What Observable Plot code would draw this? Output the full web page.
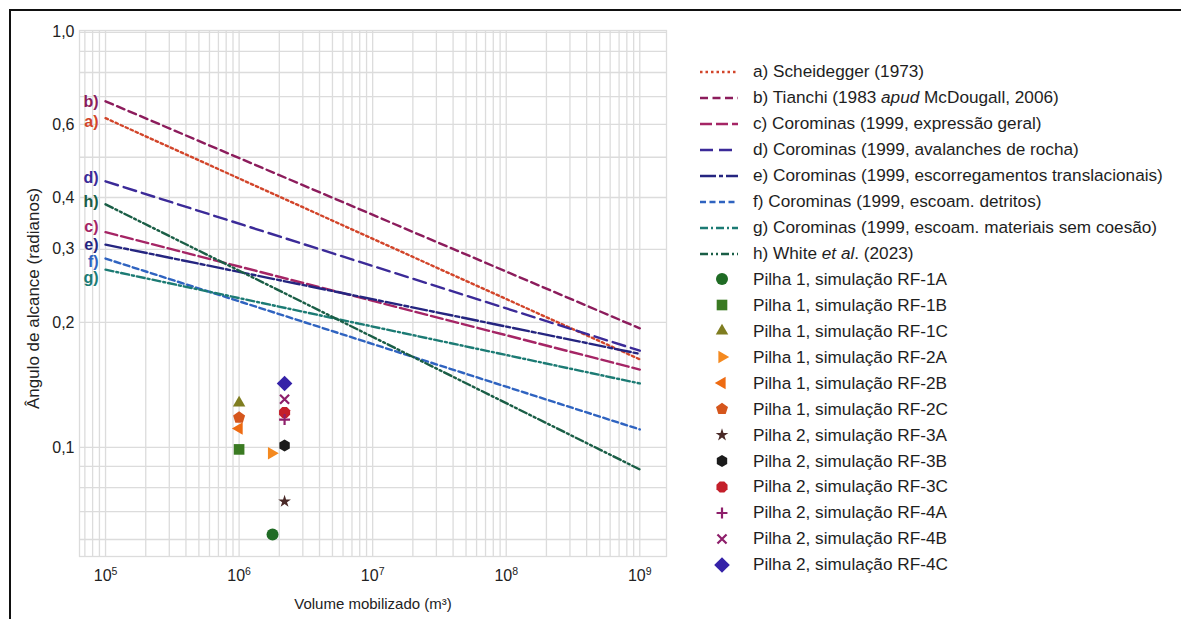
<!DOCTYPE html>
<html><head><meta charset="utf-8">
<script src="https://cdn.jsdelivr.net/npm/d3@7"></script>
<script src="https://cdn.jsdelivr.net/npm/@observablehq/plot@0.6"></script>
<style>
body{margin:0;background:#fff;font-family:"Liberation Sans",Arial,sans-serif;}
#wrap{position:relative;width:1181px;height:619px;overflow:hidden;background:#fff;}
#border{position:absolute;left:9px;top:9px;right:-5px;bottom:-5px;border-left:2px solid #111;border-top:2px solid #111;}
#chart{position:absolute;left:0;top:0;}
#legend{position:absolute;left:697px;top:59px;}
.row{height:25.95px;display:flex;align-items:center;font-size:17.2px;color:#1e1e1e;white-space:nowrap}
.row svg{width:56px;height:20px;flex:none}
</style></head><body>
<div id="wrap"><div id="border"></div><div id="chart"></div><div id="legend"></div></div>
<script>
// ---- data ----
const lineIds = ["a", "b", "c", "d", "e", "f", "g", "h"];
const lineNames = [
  "a) Scheidegger (1973)",
  "b) Tianchi (1983 <i>apud</i> McDougall, 2006)",
  "c) Corominas (1999, expressão geral)",
  "d) Corominas (1999, avalanches de rocha)",
  "e) Corominas (1999, escorregamentos translacionais)",
  "f) Corominas (1999, escoam. detritos)",
  "g) Corominas (1999, escoam. materiais sem coesão)",
  "h) White <i>et al</i>. (2023)"
];
const lineVolumes = [1e5, 1e9];
const lineAngleStart = [0.621, 0.682, 0.330, 0.4375, 0.308, 0.285, 0.268, 0.385];
const lineAngleEnd   = [0.163, 0.1936, 0.154, 0.171, 0.168, 0.1105, 0.1426, 0.0885];

const simNames = ["Pilha 1, simulação RF-1A","Pilha 1, simulação RF-1B","Pilha 1, simulação RF-1C",
  "Pilha 1, simulação RF-2A","Pilha 1, simulação RF-2B","Pilha 1, simulação RF-2C",
  "Pilha 2, simulação RF-3A","Pilha 2, simulação RF-3B","Pilha 2, simulação RF-3C",
  "Pilha 2, simulação RF-4A","Pilha 2, simulação RF-4B","Pilha 2, simulação RF-4C"];
const simVolume = [1.78e6, 1.0e6, 1.0e6, 1.75e6, 1.0e6, 1.0e6, 2.19e6, 2.19e6, 2.19e6, 2.19e6, 2.19e6, 2.19e6];
const simAngle  = [0.0617, 0.0989, 0.128, 0.0968, 0.111, 0.118, 0.0741, 0.101, 0.1214, 0.1167, 0.1306, 0.1426];

const yTicks = [0.1, 0.2, 0.3, 0.4, 0.6, 1.0];
const xTicks = [1e5, 1e6, 1e7, 1e8, 1e9];

// ---- styles ----
const lineColors = ["#d2452a", "#8c1c5c", "#a52565", "#3b2a98", "#252580", "#2f63c0", "#1c7b74", "#1a5e46"];
const lineDash = ["2.5,3", "8,4.5", "12,4", "13,6", "16,3,4,3", "6,3.5", "8,3,2,3", "8,3,2,3,2,3"];
const labelDy = [4, 1, -5, -3, 0, 3, 8, -2];
const simColors = ["#1f6b24", "#3a7a22", "#7f7d20", "#f4891f", "#ee6b12", "#d5561c",
  "#4a2a28", "#1b1b1b", "#c41f2a", "#8e1f6b", "#8e1f6b", "#3522a8"];
function poly(n, rot, k) {
  return {draw(ctx, size) {
    const r = Math.sqrt(size / Math.PI) * k;
    for (let j = 0; j < n; j++) {
      const a = rot + j * 2 * Math.PI / n;
      const x = r * Math.cos(a), y = r * Math.sin(a);
      if (j) ctx.lineTo(x, y); else ctx.moveTo(x, y);
    }
    ctx.closePath();
  }};
}
const D = Math.PI / 180;
const simSymbols = [d3.symbolCircle, d3.symbolSquare, poly(3, -90 * D, 1.2), poly(3, 0, 1.2), poly(3, 180 * D, 1.2),
  poly(5, -90 * D, 1.05), d3.symbolStar, poly(6, -90 * D, 1.0), poly(8, 22.5 * D, 1.0),
  d3.symbolPlus, d3.symbolTimes, poly(4, -90 * D, 1.3)];
const simR = [6, 6, 6, 6, 6, 6, 4, 6, 6, 3.6, 4.2, 6];
const simStroked = [false, false, false, false, false, false, false, false, false, true, true, false];

// ---- chart ----
const xDomain = [10 ** 4.805, 10 ** 9.2];
const yDomain = [0.0546, 1.01];
const xGrid = d3.scaleLog().domain(xDomain).ticks();
const yGrid = d3.scaleLog().domain(yDomain).ticks();

const lineRows = lineIds.flatMap((id, i) => [
  {id, v: lineVolumes[0], a: lineAngleStart[i]},
  {id, v: lineVolumes[1], a: lineAngleEnd[i]}
]);

const marks = [
  Plot.ruleX(xGrid, {stroke: "#dcdcdc", strokeWidth: 1.3}),
  Plot.ruleY(yGrid, {stroke: "#dcdcdc", strokeWidth: 1.3}),
  Plot.frame({stroke: "#dcdcdc", strokeWidth: 1.3})
];
lineIds.forEach((id, i) => {
  marks.push(Plot.line(lineRows.filter(d => d.id === id), {
    x: "v", y: "a", stroke: lineColors[i], strokeWidth: 2.4, strokeDasharray: lineDash[i]
  }));
  marks.push(Plot.text([i], {
    x: () => lineVolumes[0], y: j => lineAngleStart[j], text: j => lineIds[j] + ")",
    fill: lineColors[i], textAnchor: "end", dx: -7, dy: labelDy[i], fontSize: 16, fontWeight: "bold"
  }));
});
simNames.forEach((n, i) => {
  const o = {x: j => simVolume[j], y: j => simAngle[j], r: simR[i], symbol: simSymbols[i]};
  if (simStroked[i]) { o.stroke = simColors[i]; o.strokeWidth = 2.2; o.fill = "none"; }
  else { o.fill = simColors[i]; o.stroke = "none"; }
  marks.push(Plot.dot([i], o));
});
marks.push(Plot.text(["Volume mobilizado (m³)"], {frameAnchor: "bottom", lineAnchor: "middle", textAnchor: "middle", dy: 48, fontSize: 15, fill: "#222"}));
marks.push(Plot.text(["Ângulo de alcance (radianos)"], {frameAnchor: "left", textAnchor: "middle", lineAnchor: "middle", rotate: -90, dx: -46, dy: 5, fontSize: 17, fill: "#222"}));

const chart = Plot.plot({
  width: 680, height: 619,
  marginLeft: 79, marginRight: 14, marginTop: 30, marginBottom: 63,
  style: {fontFamily: "Liberation Sans, Arial, sans-serif", fontSize: "16px", color: "#222", background: "transparent", overflow: "visible"},
  x: {type: "log", domain: xDomain, ticks: xTicks, tickFormat: d => "10^" + Math.round(Math.log10(d)), tickSize: 0, tickPadding: 13, label: null},
  y: {type: "log", domain: yDomain, ticks: yTicks, tickFormat: d => d.toFixed(1).replace(".", ","), tickSize: 0, tickPadding: 5, label: null},
  marks
});
document.getElementById("chart").appendChild(chart);
const NS = "http://www.w3.org/2000/svg";
chart.querySelectorAll('g[aria-label="x-axis tick label"] text').forEach(t => {
  const [b, e] = t.textContent.split("^");
  if (e === undefined) return;
  t.textContent = b;
  t.setAttribute("font-size", "16");
  const ts = document.createElementNS(NS, "tspan");
  ts.setAttribute("dy", "-0.6em");
  ts.setAttribute("font-size", "10.5");
  ts.textContent = e;
  t.appendChild(ts);
});

// ---- legend ----
const leg = document.getElementById("legend");
lineNames.forEach((n, i) => {
  const row = document.createElement("div");
  row.className = "row";
  row.innerHTML = `<svg viewBox="0 0 56 20"><line x1="3" x2="41" y1="10" y2="10" stroke="${lineColors[i]}" stroke-width="2.4" stroke-dasharray="${lineDash[i]}"/></svg><span>${n}</span>`;
  leg.appendChild(row);
});
simNames.forEach((n, i) => {
  const row = document.createElement("div");
  row.className = "row";
  const p = d3.symbol(simSymbols[i], Math.PI * simR[i] * simR[i])();
  const st = simStroked[i] ? `fill="none" stroke="${simColors[i]}" stroke-width="2.2"` : `fill="${simColors[i]}"`;
  row.innerHTML = `<svg viewBox="0 0 56 20"><path transform="translate(25,10)" d="${p}" ${st}/></svg><span>${n}</span>`;
  leg.appendChild(row);
});
</script>
</body></html>
